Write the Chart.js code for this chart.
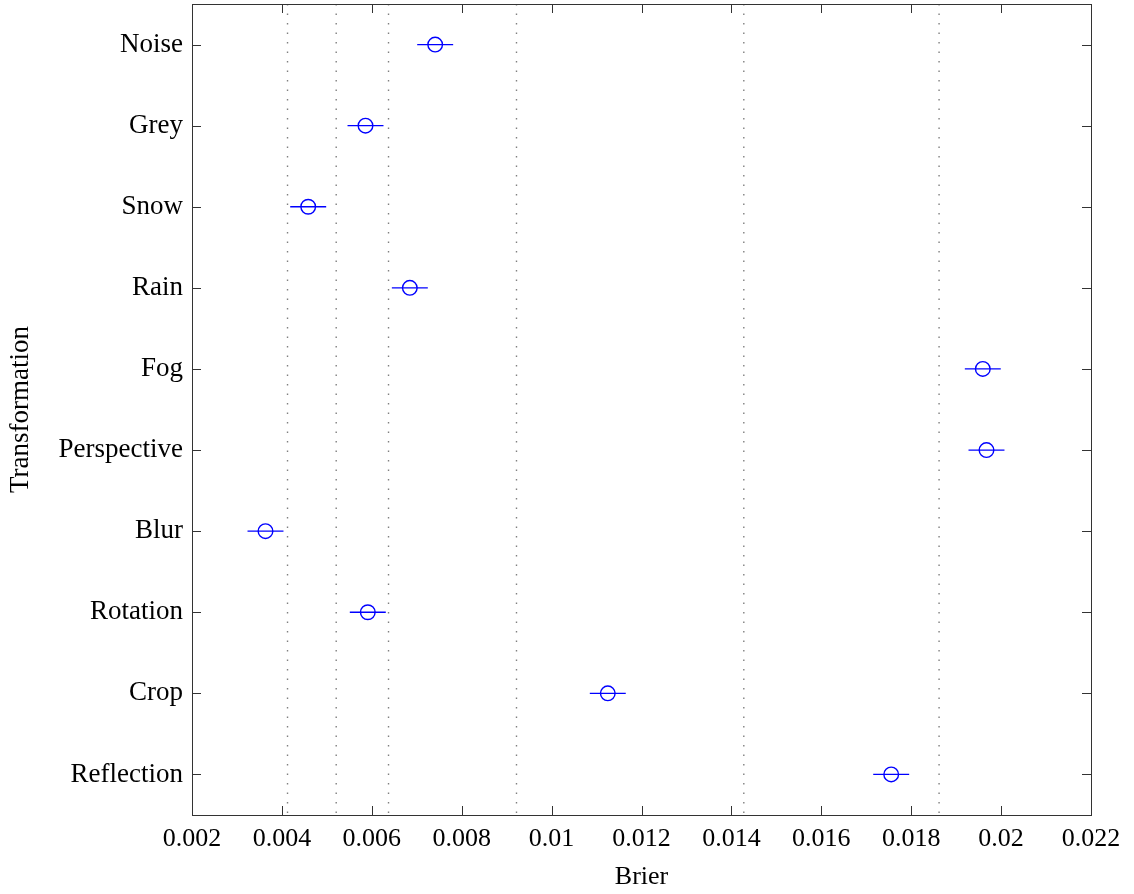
<!DOCTYPE html>
<html>
<head>
<meta charset="utf-8">
<script src="https://cdn.jsdelivr.net/npm/chart.js@4.4.1/dist/chart.umd.min.js"></script>
<style>
  html, body { margin: 0; padding: 0; background: #fff; }
  canvas { display: block; }
</style>
</head>
<body>
<canvas id="chart" width="1134" height="894"></canvas>
<script>
// Transformations on the vertical axis, top to bottom
const categories = ['Noise', 'Grey', 'Snow', 'Rain', 'Fog', 'Perspective', 'Blur', 'Rotation', 'Crop', 'Reflection'];
// Mean Brier score per transformation
const brier = [0.00741, 0.00586, 0.004585, 0.006846, 0.019593, 0.019675, 0.003635, 0.005911, 0.01125, 0.017555];
// Half-width of the horizontal error bar
const brierErr = [0.0004, 0.0004, 0.0004, 0.0004, 0.0004, 0.0004, 0.0004, 0.0004, 0.0004, 0.0004];
// Vertical dotted reference lines
const refLines = [0.004125, 0.005208, 0.006372, 0.009219, 0.014276, 0.01862];
// Horizontal axis tick labels
const xTickLabels = ['0.002', '0.004', '0.006', '0.008', '0.01', '0.012', '0.014', '0.016', '0.018', '0.02', '0.022'];

const xTickValues = xTickLabels.map(Number);
const FONT = '"Liberation Serif", "Times New Roman", serif';
const BLUE = '#0000ff';
const AXIS = '#333333';

const datasets = [];

// dotted reference lines spanning the full height
refLines.forEach(r => {
  datasets.push({
    data: [{ x: r, y: -0.5 }, { x: r, y: 9.5 }],
    showLine: true,
    borderColor: '#808080',
    borderWidth: 1.4,
    borderDash: [1.5, 8],
    pointRadius: 0
  });
});

// error bars
brier.forEach((v, i) => {
  datasets.push({
    data: [{ x: v - brierErr[i], y: i }, { x: v + brierErr[i], y: i }],
    showLine: true,
    borderColor: BLUE,
    borderWidth: 1.3,
    pointRadius: 0
  });
});

// open circle markers
datasets.push({
  data: brier.map((v, i) => ({ x: v, y: i })),
  showLine: false,
  pointStyle: 'circle',
  pointRadius: 7.3,
  pointBorderWidth: 1.4,
  pointBorderColor: BLUE,
  pointBackgroundColor: 'rgba(0,0,0,0)'
});

// frame around the plot area with inward ticks on all four sides
const framePlugin = {
  id: 'frame',
  afterDatasetsDraw(chart) {
    const { ctx, chartArea: a, scales } = chart;
    const len = 9;
    ctx.save();
    ctx.strokeStyle = AXIS;
    ctx.lineWidth = 1;
    ctx.beginPath();
    scales.x.ticks.forEach(t => {
      if (t.value <= scales.x.min || t.value >= scales.x.max) return;
      const px = Math.round(scales.x.getPixelForValue(t.value)) + 0.5;
      ctx.moveTo(px, a.bottom); ctx.lineTo(px, a.bottom - len);
      ctx.moveTo(px, a.top); ctx.lineTo(px, a.top + len);
    });
    scales.y.ticks.forEach(t => {
      const py = Math.round(scales.y.getPixelForValue(t.value)) + 0.5;
      ctx.moveTo(a.left, py); ctx.lineTo(a.left + len, py);
      ctx.moveTo(a.right, py); ctx.lineTo(a.right - len, py);
    });
    ctx.stroke();
    ctx.strokeRect(Math.round(a.left) + 0.5, Math.round(a.top) + 0.5,
                   Math.round(a.right - a.left), Math.round(a.bottom - a.top));
    ctx.restore();
  }
};

new Chart(document.getElementById('chart'), {
  type: 'scatter',
  data: { datasets },
  options: {
    responsive: false,
    devicePixelRatio: 1,
    animation: false,
    layout: { autoPadding: false, padding: { left: 0, right: 43, top: 4, bottom: 0 } },
    plugins: { legend: { display: false }, tooltip: { enabled: false } },
    scales: {
      x: {
        type: 'linear',
        min: 0.002,
        max: 0.022,
        afterBuildTicks: s => { s.ticks = xTickValues.map(v => ({ value: v })); },
        afterFit: s => { s.height = 79; },
        grid: { display: false, drawTicks: false },
        border: { display: false },
        ticks: {
          padding: 9,
          color: '#000',
          font: { family: FONT, size: 26 },
          maxRotation: 0,
          autoSkip: false,
          callback: (v, i) => xTickLabels[i]
        },
        title: {
          display: true,
          text: 'Brier',
          color: '#000',
          font: { family: FONT, size: 26 },
          padding: { top: 0, bottom: 1 }
        }
      },
      y: {
        type: 'linear',
        reverse: true,
        min: -0.5,
        max: 9.5,
        afterBuildTicks: s => { s.ticks = categories.map((c, i) => ({ value: i })); },
        afterFit: s => { s.width = 192; s.paddingTop = 0; s.paddingBottom = 0; },
        grid: { display: false, drawTicks: false },
        border: { display: false },
        ticks: {
          padding: 9,
          color: '#000',
          font: { family: FONT, size: 27 },
          autoSkip: false,
          callback: (v, i) => categories[i]
        },
        title: {
          display: true,
          text: 'Transformation',
          color: '#000',
          font: { family: FONT, size: 27 },
          padding: { top: 5, bottom: 0 }
        }
      }
    }
  },
  plugins: [framePlugin]
});
</script>
</body>
</html>
